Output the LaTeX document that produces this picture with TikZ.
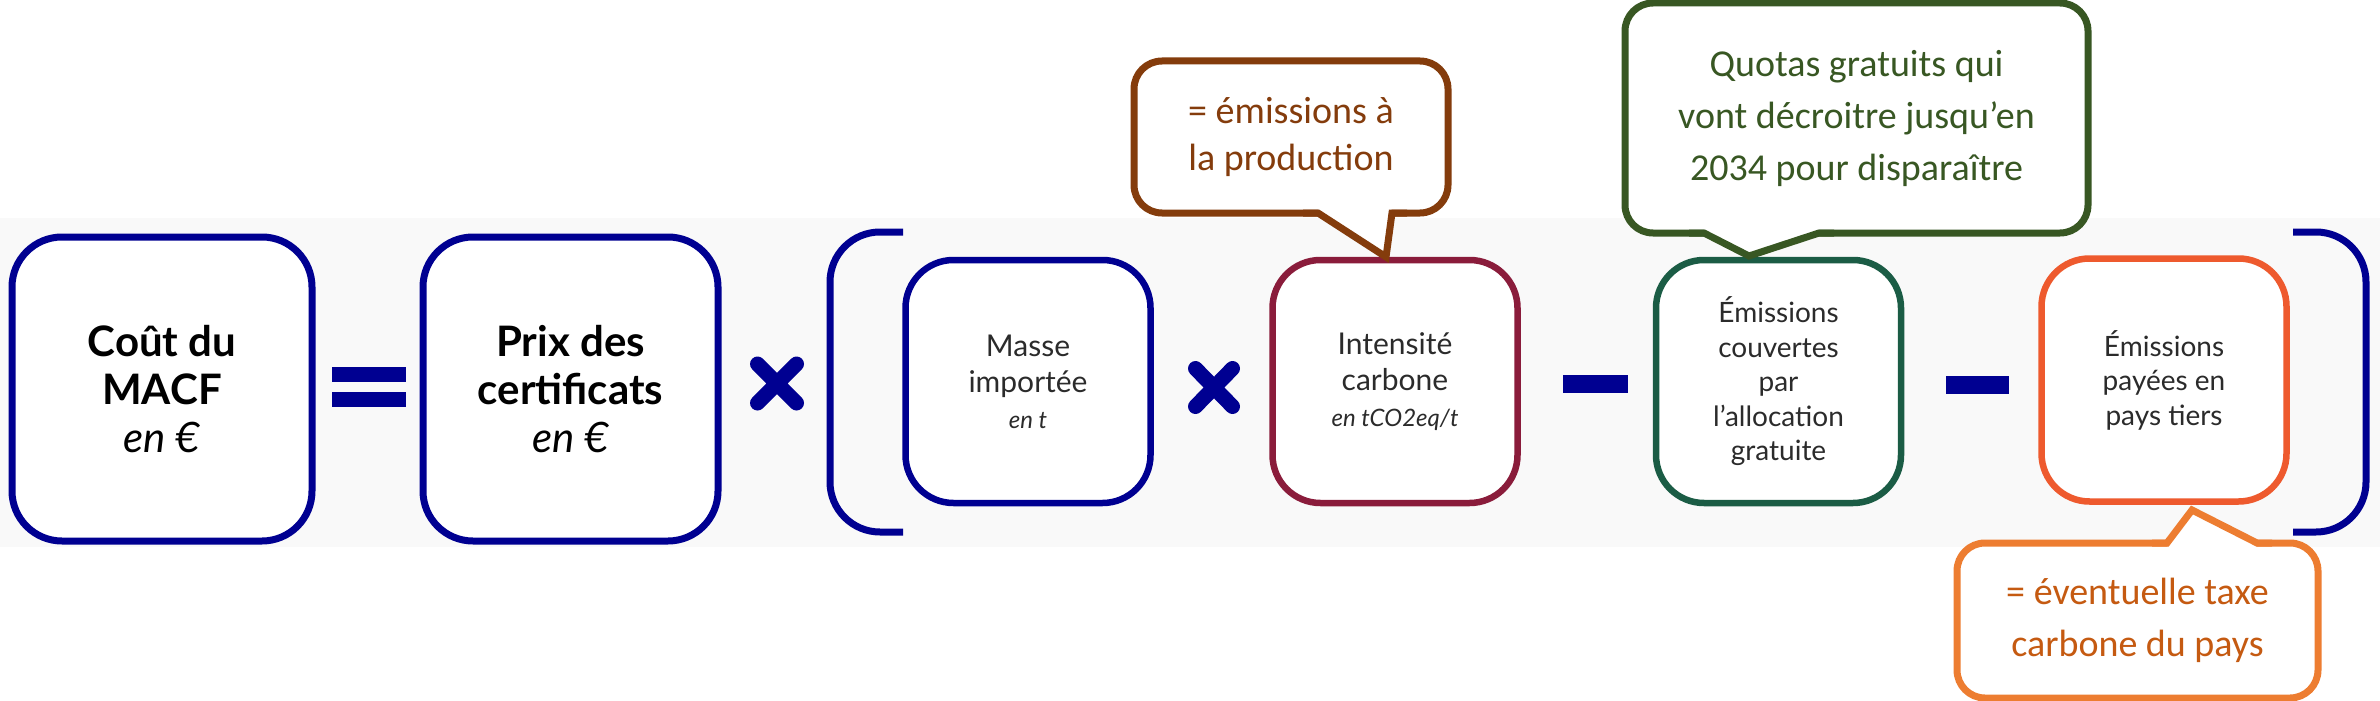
\documentclass[tikz,border=0pt]{standalone}
\usepackage{fontspec}
\setmainfont{Lato}
\newfontfamily\callfont{Carlito}
\usetikzlibrary{calc}
\definecolor{navy}{HTML}{000091}
\definecolor{boxmaroon}{HTML}{8A1C3B}
\definecolor{boxgreen}{HTML}{1B5C45}
\definecolor{boxorange}{HTML}{EE5A2E}
\definecolor{cbrown}{HTML}{843C0C}
\definecolor{cgreen}{HTML}{385723}
\definecolor{corange}{HTML}{ED7D31}
\definecolor{corangetext}{HTML}{C55A11}
\definecolor{bandgray}{HTML}{F9F9F9}
\definecolor{boxtext}{HTML}{2B2B2B}
\tikzset{
  bigbox/.style={draw=navy, line width=7pt, rounded corners=50pt, fill=white,
    minimum width=300pt, minimum height=304pt, align=center, text=black,
    font=\fontsize{42}{48}\selectfont\bfseries},
  termbox/.style={line width=6.5pt, rounded corners=48pt, fill=white,
    minimum width=245pt, minimum height=243pt, align=center, text=boxtext,
    font=\fontsize{30}{36}\selectfont},
  callout/.style={line width=7pt, rounded corners=28pt, fill=white, align=center},
  bracket/.style={draw=navy, line width=7pt, rounded corners=50pt},
  timesop/.style={draw=navy, line width=15pt, line cap=round},
  tail/.style={line width=7pt, line join=miter}
}
\begin{document}
\begin{tikzpicture}[x=1pt,y=-1pt]
\useasboundingbox (0,0) rectangle (2380,701);
\fill[bandgray] (0,218) rectangle (2380,547);

% brackets
\draw[bracket] (903,232) -- (830,232) -- (830,532) -- (903,532);
\draw[bracket] (2293,232) -- (2366,232) -- (2366,532) -- (2293,532);

% main boxes
\node[bigbox] (cout) at (162,389) {Coût du\\MACF\\{\mdseries\itshape en €}};
\node[bigbox, minimum width=295pt] (prix) at (570.5,389) {Prix des\\certificats\\{\mdseries\itshape en €}};

\node[termbox, draw=navy] (masse) at (1028,381.5) {Masse\\importée\\{\itshape\fontsize{24}{36}\selectfont en t}};
\node[termbox, draw=boxmaroon] (intens) at (1395,381.5) {Intensité\\carbone\\{\itshape\fontsize{24}{36}\selectfont en tCO2eq/t}};
\node[termbox, draw=boxgreen, font=\fontsize{28}{34.5}\selectfont] (couv) at (1778.5,381.5) {Émissions\\couvertes\\par\\l’allocation\\gratuite};
\node[termbox, draw=boxorange, font=\fontsize{28}{34.5}\selectfont] (payees) at (2164,380) {Émissions\\payées en\\pays tiers};

% operators
\fill[navy] (332,367) rectangle (406,382);
\fill[navy] (332,392) rectangle (406,407);
\draw[timesop] (757.5,364) -- (796.5,403) (757.5,403) -- (796.5,364);
\draw[timesop] (1195.5,368.5) -- (1232.5,406.5) (1195.5,406.5) -- (1232.5,368.5);
\fill[navy] (1563,375) rectangle (1628,393);
\fill[navy] (1946,376) rectangle (2009,394);

% brown callout
\node[callout, draw=cbrown, text=cbrown, minimum width=314pt, minimum height=152pt,
  font=\callfont\fontsize{38}{47}\selectfont] (cprod) at (1291,137) {= émissions à\\la production};
\coordinate (b1) at (1318,213);
\coordinate (b2) at (1392,213);
\coordinate (bt) at (1386,257);
\fill[white] (1319,206) -- (1391,206) -- (b2) -- (bt) -- (b1) -- cycle;
\draw[tail, cbrown] ($(b1)+(-15,0)$) -- (b1) -- (bt) -- (b2) -- ($(b2)+(15,0)$);

% green callout
\node[callout, draw=cgreen, text=cgreen, minimum width=463pt, minimum height=230pt,
  font=\callfont\fontsize{38}{52}\selectfont] (cquota) at (1856.5,118) {Quotas gratuits qui\\vont décroitre jusqu’en\\2034 pour disparaître};
\coordinate (g1) at (1704,233);
\coordinate (g2) at (1819,233);
\coordinate (gt) at (1749,256);
\fill[white] (1705,226) -- (1818,226) -- (g2) -- (gt) -- (g1) -- cycle;
\draw[tail, cgreen] ($(g1)+(-15,0)$) -- (g1) -- (gt) -- (g2) -- ($(g2)+(15,0)$);

% orange callout
\node[callout, draw=corange, text=corangetext, minimum width=361pt, minimum height=155pt,
  font=\callfont\fontsize{38}{52}\selectfont] (ctaxe) at (2137.5,620.5) {= éventuelle taxe\\carbone du pays};
\coordinate (o1) at (2167,543);
\coordinate (o2) at (2257,543);
\coordinate (ot) at (2192,510);
\fill[white] (2168,550) -- (2256,550) -- (o2) -- (ot) -- (o1) -- cycle;
\draw[tail, corange] ($(o1)+(-15,0)$) -- (o1) -- (ot) -- (o2) -- ($(o2)+(15,0)$);
\end{tikzpicture}
\end{document}
